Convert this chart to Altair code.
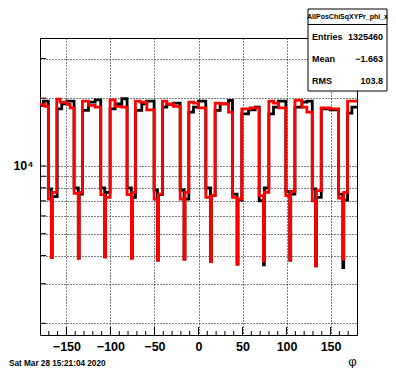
import altair as alt
import pandas as pd

# ---------------- data ----------------
# bin lower edges (degrees) and contents for each histogram; last bin ends at 180
red_x = [-180, -174.2,
         -170.5, -167.1, -166.1,
         -161, -157.2, -149.6, -145.8,
         -141.3, -136.5, -135.5,
         -131.8, -125, -117.4,
         -111, -106.5, -105.5,
         -100.4, -94.7, -87.1,
         -81.1, -76.2, -75.2,
         -71.6, -66.3, -58.7,
         -50.4, -46.6, -45.6,
         -40.9, -36, -28.4,
         -20.8, -16.4, -15.4,
         -11, -5.7, 0,
         8.3, 13.6, 14.6,
         18.9, 24.6, 34.1,
         38.6, 43.8, 44.8,
         49.2, 58.7,
         68.9, 73.8, 74.8,
         79.9, 85.2, 90.9,
         99.2, 103.7, 104.7,
         109.5, 117.4, 123.1,
         129.2, 133, 134,
         139.4, 149.6,
         159.1, 163.9, 164.9,
         169.3]
red_y = [18750, 18370,
         7127, 3921, 7635,
         19810, 19210, 18750, 18120,
         7555, 3894, 7635,
         19410, 18560, 18250,
         7452, 3948, 7250,
         19670, 18370, 18250,
         7452, 3894, 7635,
         19410, 19210, 17760,
         7127, 3815, 7503,
         19410, 18880, 18370,
         7127, 3855, 7635,
         19210, 19010, 18120,
         7250, 3763, 7376,
         19010, 18880, 17340,
         7250, 3662, 7127,
         17940, 18120,
         7376, 3789, 7635,
         19410, 19010, 18120,
         7376, 3815, 7713,
         19540, 18250, 17340,
         7006, 3600, 7765,
         18120, 17940,
         7200, 3855, 7635,
         19410]

black_x = [-180, -176.1,
           -170.5, -167.1, -166.1,
           -160.5, -155.3, -149.6,
           -141.3, -136.5, -135.5,
           -131.8, -125, -117.4,
           -111, -106.5, -105.5,
           -100.4, -94.7, -87.1,
           -81.1, -76.2, -75.2,
           -71.6, -64.4, -58.7,
           -50.4, -46.6, -45.6,
           -40.9, -36, -28.4,
           -20.8, -16.4, -15.4,
           -11, -5.7, 0,
           8.3, 13.6, 14.6,
           18.9, 24.6, 34.1,
           38.6, 43.8, 44.8,
           49.2, 56.8, 64.4,
           68.9, 73.8, 74.8,
           79.9, 85.2, 90.9,
           99.2, 103.7, 104.7,
           109.5, 117.4, 123.1,
           129.2, 133, 134,
           139.4, 149.6,
           159.1, 163.9, 164.9,
           169.3, 174.2]
black_y = [18560, 19410,
           7900, 3921, 7300,
           17940, 18880, 19410,
           7980, 3894, 7503,
           17640, 19210, 19670,
           7980, 3948, 7635,
           17940, 18880, 19880,
           7980, 3894, 7250,
           17640, 18880, 19410,
           7820, 3815, 7452,
           18250, 18750, 19010,
           7820, 3855, 7127,
           17340, 18250, 19410,
           7980, 3763, 7376,
           17640, 18880, 19540,
           7503, 3662, 7054,
           17040, 17760, 18250,
           7006, 3637, 7980,
           17040, 18250, 19410,
           7713, 3815, 7503,
           18250, 19210, 19410,
           7900, 3600, 7250,
           17940, 17760,
           7503, 3538, 7054,
           17160, 18250]

x_major = [-150, -100, -50, 0, 50, 100, 150]
x_minor = [-170, -160, -140, -130, -120, -110, -90, -80, -70, -60, -40, -30, -20, -10,
           10, 20, 30, 40, 60, 70, 80, 90, 110, 120, 130, 140, 160, 170]
y_ticks = [2000, 3000, 4000, 5000, 6000, 7000, 8000, 9000, 10000, 20000, 30000]

stats_title = "AllPosChiSqXYPr_phi_x"
stats_names = ["Entries", "Mean", "RMS"]
stats_vals = ["1325460", "\u22121.663", "103.8"]
date_text = "Sat Mar 28 15:21:04 2020"
x_title = "\u03c6"

assert len(red_x) == len(red_y) and len(black_x) == len(black_y)

# ---------------- chart ----------------
W, H = 317, 297
FONT = "Liberation Sans"


def hist_df(xs, ys):
    return pd.DataFrame({"phi": xs + [180], "n": ys + [ys[-1]]})


x_scale = alt.Scale(domain=[-180, 180], nice=False, zero=False)
y_scale = alt.Scale(type="log", domain=[1775, 37000], nice=False)

x_axis = alt.Axis(values=x_major, grid=True, gridDash=[1, 2], gridColor="black",
                  gridOpacity=1, gridWidth=1, ticks=False, domain=False,
                  labelFont=FONT, labelFontSize=12.5, labelFontWeight="bold",
                  labelColor="black", labelPadding=5, title=None, labelFlush=False)
y_axis = alt.Axis(values=y_ticks, grid=True, gridDash=[1, 2], gridColor="black",
                  gridOpacity=1, gridWidth=1, ticks=False, domain=False,
                  labelExpr="datum.value == 10000 ? '10\u2074' : ''",
                  labelFont=FONT, labelFontSize=12.5, labelFontWeight="bold",
                  labelColor="black", labelPadding=7, title=None)

black_line = alt.Chart(hist_df(black_x, black_y)).mark_line(
    interpolate="step-after", color="black", strokeWidth=2.8
).encode(x=alt.X("phi:Q", scale=x_scale, axis=x_axis),
         y=alt.Y("n:Q", scale=y_scale, axis=y_axis))

red_line = alt.Chart(hist_df(red_x, red_y)).mark_line(
    interpolate="step-after", color="#ff0000", strokeWidth=2.8
).encode(x=alt.X("phi:Q", scale=x_scale, axis=x_axis),
         y=alt.Y("n:Q", scale=y_scale, axis=y_axis))

xmaj_ticks = alt.Chart(pd.DataFrame({"phi": x_major})).mark_rule(color="black", strokeWidth=1).encode(
    x=alt.X("phi:Q", scale=x_scale, axis=x_axis), y=alt.value(H), y2=alt.value(H - 8))
xmin_ticks = alt.Chart(pd.DataFrame({"phi": x_minor})).mark_rule(color="black", strokeWidth=1).encode(
    x=alt.X("phi:Q", scale=x_scale, axis=x_axis), y=alt.value(H), y2=alt.value(H - 4))
y_tick_marks = alt.Chart(pd.DataFrame({"n": y_ticks})).mark_rule(color="black", strokeWidth=1).encode(
    y=alt.Y("n:Q", scale=y_scale, axis=y_axis), x=alt.value(0), x2=alt.value(6))

# stats box
bx0, bx1, by0, by1 = 268, 347, -29, 53
box = alt.Chart(pd.DataFrame({"a": [0]})).mark_rect(fill="white", stroke="black", strokeWidth=1).encode(
    x=alt.value(bx0), x2=alt.value(bx1), y=alt.value(by0), y2=alt.value(by1))
sep = alt.Chart(pd.DataFrame({"a": [0]})).mark_rule(color="black", strokeWidth=1).encode(
    x=alt.value(bx0), x2=alt.value(bx1), y=alt.value(-13.5))
title_txt = alt.Chart(pd.DataFrame({"s": [stats_title]})).mark_text(
    font=FONT, fontSize=7, fontWeight="bold", align="center", baseline="middle", color="black"
).encode(x=alt.value((bx0 + bx1) / 2), y=alt.value(-21.5), text="s:N")

stat_layers = []
for i, (nm, vl) in enumerate(zip(stats_names, stats_vals)):
    yy = -1.5 + 22 * i
    stat_layers.append(alt.Chart(pd.DataFrame({"s": [nm]})).mark_text(
        font=FONT, fontSize=9, fontWeight="bold", align="left", baseline="middle", color="black"
    ).encode(x=alt.value(bx0 + 4), y=alt.value(yy), text="s:N"))
    stat_layers.append(alt.Chart(pd.DataFrame({"s": [vl]})).mark_text(
        font=FONT, fontSize=9, fontWeight="bold", align="right", baseline="middle", color="black"
    ).encode(x=alt.value(bx1 - 4), y=alt.value(yy), text="s:N"))

date = alt.Chart(pd.DataFrame({"s": [date_text]})).mark_text(
    font=FONT, fontSize=8.2, fontWeight="bold", align="left", baseline="middle", color="black"
).encode(x=alt.value(-31), y=alt.value(H + 29), text="s:N")
phi = alt.Chart(pd.DataFrame({"s": [x_title]})).mark_text(
    font=FONT, fontSize=13, align="center", baseline="middle", color="black"
).encode(x=alt.value(312.5), y=alt.value(H + 27), text="s:N")

chart = alt.layer(
    black_line, red_line, xmin_ticks, xmaj_ticks, y_tick_marks,
    box, sep, title_txt, *stat_layers, date, phi
).properties(
    width=W, height=H,
    autosize=alt.AutoSizeParams(type="none"),
    padding={"left": 32, "top": 30, "right": 31, "bottom": 33},
    background="white",
).configure_view(stroke="black", strokeWidth=1)

chart.save("out.html", embed_options={"renderer": "svg", "actions": False})
